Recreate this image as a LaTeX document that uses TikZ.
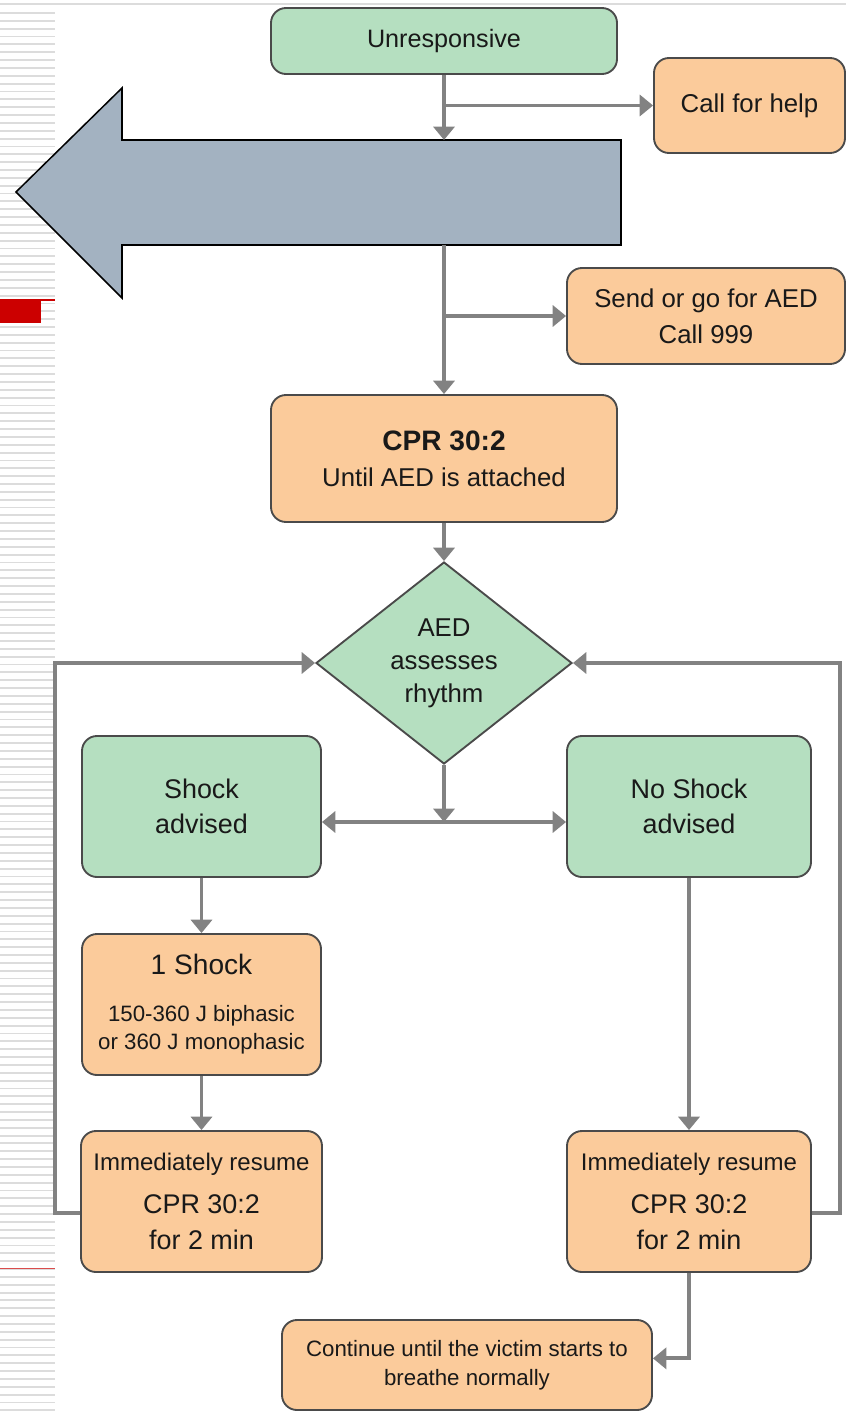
\documentclass[tikz,border=0pt]{standalone}
\usepackage{fontspec}
\setmainfont{Liberation Sans}
\usetikzlibrary{shapes.geometric,arrows.meta}

\definecolor{boxgreen}{HTML}{B5DFC0}
\definecolor{boxorange}{HTML}{FBCB9B}
\definecolor{bigarrow}{HTML}{A3B2C1}
\definecolor{linegray}{HTML}{828282}
\definecolor{rimgray}{HTML}{4A4A4A}
\definecolor{stripegray}{HTML}{DCDCDC}
\definecolor{barred}{HTML}{CC0000}

\newcommand{\fs}[2]{\fontsize{#1}{#2}\selectfont}

\begin{document}
\begin{tikzpicture}[x=0.03cm,y=-0.03cm,
  >={Triangle[length=0.4cm,width=0.63cm]},
  box/.style={draw=rimgray,line width=1.6pt,rounded corners=0.45cm,align=center,inner sep=0pt,text=black!90},
  gbox/.style={box,fill=boxgreen},
  obox/.style={box,fill=boxorange},
  conn/.style={linegray,line width=3.4pt},
  stripe/.style={stripegray,line width=1.6pt}]
\useasboundingbox (0,0) rectangle (846,1412);

% page background
\draw[stripegray,line width=1.2pt] (0,4) -- (846,4);
\foreach \i in {0,...,178}
  \draw[stripe] (0,13+7.85*\i) -- (55,13+7.85*\i);
\fill[barred] (0,300) rectangle (41,323);
\draw[barred,line width=1pt] (0,300) -- (55,300);
\draw[barred!70,line width=0.8pt] (0,1268) -- (55,1268);

% big arrow
\draw[fill=bigarrow,line width=1.3pt] (16,192) -- (122,88) -- (122,140) -- (621,140)
  -- (621,245) -- (122,245) -- (122,298) -- cycle;
\coordinate (btop) at (444,140);
\coordinate (bbot) at (444,245);

% boxes
\node[gbox,minimum width=10.38cm,minimum height=1.98cm,font=\fs{21.5}{26}] (un) at (444,41) {\raisebox{-0.15cm}{Unresponsive}};
\node[obox,minimum width=5.73cm,minimum height=2.85cm,font=\fs{22}{28}] (call) at (749.5,105.5) {Call for help};
\node[obox,minimum width=8.34cm,minimum height=2.88cm,font=\fs{22}{31}] (send) at (706,316) {Send or go for AED\\Call 999};
\node[obox,minimum width=10.38cm,minimum height=3.81cm,font=\fs{22}{31}] (cpr) at (444,458.5)
  {\fs{24}{31}\bfseries CPR 30:2\\Until AED is attached};
\node[diamond,aspect=1.27,draw=rimgray,line width=1.6pt,fill=boxgreen,inner sep=0pt,
  minimum width=7.68cm,minimum height=6.06cm,align=center,text=black!90,font=\fs{22}{28}] (aed) at (444,663)
  {AED\\assesses\\rhythm};
\node[gbox,minimum width=7.17cm,minimum height=4.23cm,font=\fs{23}{30}] (shock) at (201.5,806.5) {Shock\\advised};
\node[gbox,minimum width=7.32cm,minimum height=4.23cm,font=\fs{23}{30}] (noshock) at (689,806.5) {No Shock\\advised};
\node[obox,minimum width=7.17cm,minimum height=4.23cm,font=\fs{19}{24}] (one) at (201.5,1004.5)
  {\fs{24}{24}1 Shock\\[16pt]150-360 J biphasic\\or 360 J monophasic};
\node[obox,minimum width=7.23cm,minimum height=4.23cm,font=\fs{23}{31}] (resumeL) at (201.5,1201.5)
  {\fs{20.5}{31}Immediately resume\\[5pt]CPR 30:2\\for 2 min};
\node[obox,minimum width=7.32cm,minimum height=4.23cm,font=\fs{23}{31}] (resumeR) at (689,1201.5)
  {\fs{20.5}{31}Immediately resume\\[5pt]CPR 30:2\\for 2 min};
\node[obox,minimum width=11.1cm,minimum height=2.7cm,font=\fs{19}{25}] (cont) at (467,1365)
  {Continue until the victim starts to\\breathe normally};

% connectors
\draw[conn,->] (un.south) -- (btop);
\draw[conn,->] (un.south |- call.west) -- (call.west);
\draw[conn,->] (bbot) -- (cpr.north);
\draw[conn,->] (bbot |- send.west) -- (send.west);
\draw[conn,->] (cpr.south) -- (aed.north);
\coordinate (split) at (444,822);
\draw[conn,->] (aed.south) -- (split);
\draw[conn,<->] (shock.east |- split) -- (noshock.west |- split);
\draw[conn,->] (shock.south) -- (one.north);
\draw[conn,->] (one.south) -- (resumeL.north);
\draw[conn,->] (noshock.south) -- (resumeR.north);
\draw[conn,->] ([yshift=-0.33cm]resumeL.west) -- ++(-25,0) |- (aed.west);
\draw[conn,->] ([yshift=-0.33cm]resumeR.east) -- ++(28,0) |- (aed.east);
\draw[conn,->] (resumeR.south) |- ([yshift=0.2cm]cont.east);
\end{tikzpicture}
\end{document}
